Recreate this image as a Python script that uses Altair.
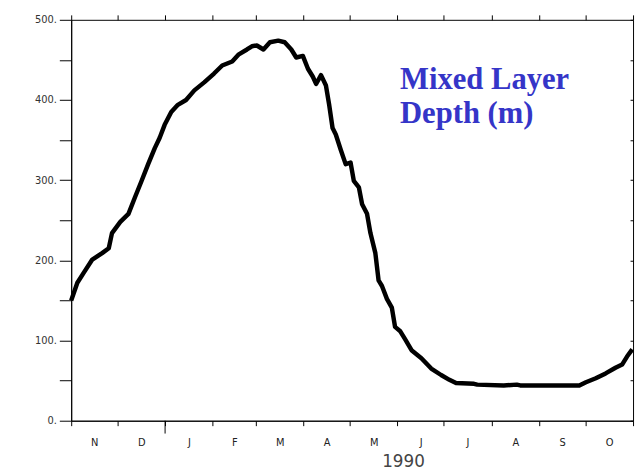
import altair as alt
import pandas as pd

# Days since 1 Nov 1989 and mixed layer depth (m)
days = [0, 4, 8.3, 13.7, 20.1, 24.4, 26.5, 31.9, 37.2, 41.5,
        45.7, 50, 54.3, 57.5, 60.7, 65, 69.3, 74.6, 80, 86.4,
        92.8, 98.1, 104.6, 108.9, 114.2, 117.4, 120.6, 124.9, 129.1, 134.5,
        138.7, 143, 146.2, 150.5, 153.8, 157, 159.1, 162.3, 165.5, 167.6,
        169.8, 171.9, 175.1, 178.3, 181.5, 183.6, 186.9, 189, 192.2, 194.4,
        197.6, 199.7, 201.9, 205.1, 208.3, 210.4, 213.6, 216.8, 221.1, 227.5,
        233.9, 240.3, 245.7, 250, 261.7, 263.8, 281, 289.5, 291.7, 313,
        330.1, 334.4, 340.8, 347.2, 353.6, 357.9, 361.1, 364.5]
depth = [150, 172, 185, 201, 209, 215, 234, 248, 258, 279,
         299, 320, 340, 353, 369, 385, 394, 400, 412, 422,
         433, 443, 448, 457, 463, 467, 468, 463, 472, 474,
         472, 463, 453, 455, 439, 429, 420, 431, 418, 394,
         365, 357, 338, 320, 322, 299, 291, 270, 258, 234,
         209, 175, 168, 152, 141, 117, 112, 102, 88, 78,
         65, 57, 51, 47, 46, 45, 44, 45, 44, 44,
         44, 48, 53, 59, 66, 70, 80, 89]

month_bounds = [0, 30, 61, 92, 120, 151, 181, 212, 242, 273, 304, 334, 365]
month_letters = ["N", "D", "J", "F", "M", "A", "M", "J", "J", "A", "S", "O"]
year_start_day = [61]
y_ticks = list(range(0, 501, 50))
title_lines = ["Mixed Layer", "Depth (m)"]
year_label = "1990"

month_mids = [(month_bounds[i] + month_bounds[i + 1]) / 2 for i in range(12)]
label_expr = "[" + ",".join("'%s'" % m for m in month_letters) + "][indexof([" + \
    ",".join(str(v) for v in month_mids) + "], datum.value)]"

df = pd.DataFrame({"day": days, "depth": depth})
jan = pd.DataFrame({"day": year_start_day})
one = pd.DataFrame({"k": [0]})

xscale = alt.Scale(domain=[0, 365], nice=False, zero=False)
yscale = alt.Scale(domain=[0, 500], nice=False)
FONT = "DejaVu Sans"

line = alt.Chart(df).mark_line(color="black", strokeWidth=4.5, strokeJoin="round").encode(
    x=alt.X("day:Q", scale=xscale,
            axis=alt.Axis(orient="bottom", values=month_bounds, labels=False, tickSize=5,
                          domain=True, grid=False, title=None, tickColor="black",
                          domainColor="black")),
    y=alt.Y("depth:Q", scale=yscale,
            axis=alt.Axis(orient="left", values=y_ticks,
                          labelExpr="datum.value % 100 == 0 ? datum.value + '.' : ''",
                          tickSize=12, labelPadding=3, labelFont=FONT, labelFontSize=10,
                          labelColor="#333", tickColor="black", domainColor="black",
                          grid=False, title=None, labelOverlap=False)),
)

jan_tick = alt.Chart(jan).mark_rule(color="black", strokeWidth=1).encode(
    x=alt.X("day:Q", scale=xscale,
            axis=alt.Axis(orient="bottom", values=month_mids, labelExpr=label_expr,
                          ticks=False, tickSize=0, domain=False, grid=False,
                          labelPadding=17, labelFont=FONT, labelFontSize=10,
                          labelColor="#222", title=year_label, titleFont=FONT,
                          titleFontSize=17, titleFontWeight="normal", titleColor="#444",
                          titleX=336, titleY=46, titleAlign="center",
                          titleBaseline="alphabetic", labelOverlap=False)),
    y=alt.value(406),
    y2=alt.value(419),
)

frame = alt.Chart(df).mark_point(opacity=0, size=1).encode(
    x=alt.X("day:Q", scale=xscale,
            axis=alt.Axis(orient="top", values=month_bounds, labels=False, tickSize=5,
                          domain=False, grid=False, title=None, tickColor="black")),
    y=alt.Y("depth:Q", scale=yscale,
            axis=alt.Axis(orient="right", values=y_ticks, labels=False, tickSize=3,
                          offset=-3, domain=False, grid=False, title=None,
                          tickColor="black")),
)

title = alt.Chart(one).mark_text(
    align="left", baseline="alphabetic", font="Liberation Serif", fontSize=31,
    fontWeight="bold", color="#3535c8", lineHeight=35,
).encode(x=alt.value(333), y=alt.value(70), text=alt.value(title_lines))

chart = alt.layer(line, jan_tick, frame, title).resolve_axis(
    x="independent", y="independent"
).properties(
    width=569, height=406,
    autosize=alt.AutoSizeParams(type="none"),
    padding={"left": 64, "top": 9, "right": 3, "bottom": 51},
).configure_view(stroke="black", strokeWidth=1)

chart.save("out.html", embed_options={"renderer": "svg", "actions": False})
